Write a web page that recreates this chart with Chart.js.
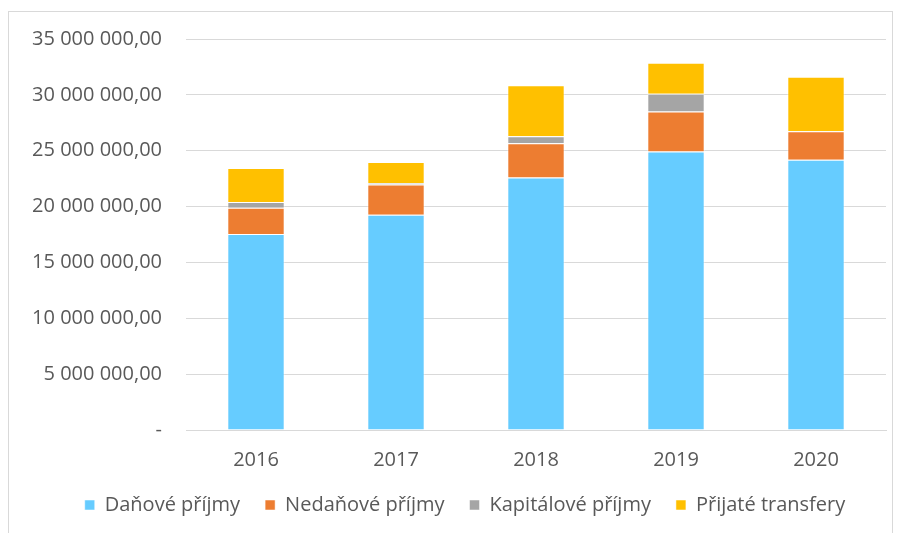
<!DOCTYPE html>
<html>
<head>
<meta charset="utf-8">
<script src="https://cdn.jsdelivr.net/npm/chart.js@4/dist/chart.umd.min.js"></script>
<style>
html,body{margin:0;padding:0;background:#fff;}
#frame{position:absolute;left:8px;top:11px;width:885px;height:530px;border:1px solid #d9d9d9;box-sizing:border-box;}
#wrap{position:absolute;left:0;top:0;width:900px;height:533px;}
</style>
</head>
<body>
<div id="frame"></div>
<div id="wrap"><canvas id="c" width="900" height="533"></canvas></div>
<script>
const categories = ['2016','2017','2018','2019','2020'];
const danove = [17550000, 19260000, 22610000, 24920000, 24200000];
const nedanove = [2340000, 2720000, 3060000, 3600000, 2550000];
const kapitalove = [510000, 130000, 630000, 1590000, 0];
const transfery = [3060000, 1890000, 4560000, 2760000, 4860000];
const yTicks = [0, 5000000, 10000000, 15000000, 20000000, 25000000, 30000000, 35000000];

function fmt(v){
  if (v === 0) return '-';
  const s = Math.round(v).toString().replace(/\B(?=(\d{3})+(?!\d))/g, ' ');
  return s + ',00';
}
const FONT = '"Open Sans", Lato, sans-serif';
const ds = (label, data, color) => ({label, data, backgroundColor: color, borderColor: 'rgba(255,255,255,0.5)', borderWidth: 1, barPercentage: 0.41, categoryPercentage: 1});

const shiftLegend = {
  id: 'shiftLegend',
  afterLayout(chart) {
    const lg = chart.legend;
    if (lg) { lg.left += 22; lg.right += 22; }
  }
};

new Chart(document.getElementById('c'), {
  type: 'bar',
  data: {
    labels: categories,
    datasets: [
      ds('Daňové příjmy', danove, '#66CCFF'),
      ds('Nedaňové příjmy', nedanove, '#ED7D31'),
      ds('Kapitálové příjmy', kapitalove, '#A5A5A5'),
      ds('Přijaté transfery', transfery, '#FFC000')
    ]
  },
  plugins: [shiftLegend],
  options: {
    responsive: false,
    animation: false,
    layout: {padding: {top: 39, right: 14, bottom: 8, left: 0}},
    plugins: {
      legend: {
        position: 'bottom',
        labels: {
          boxWidth: 10, boxHeight: 10, padding: 25,
          color: '#595959', font: {family: FONT, size: 20}
        }
      },
      tooltip: {enabled: false}
    },
    scales: {
      x: {
        stacked: true,
        afterFit: (axis) => { axis.height = 40; },
        grid: {display: false, drawTicks: false},
        border: {color: '#d9d9d9'},
        ticks: {color: '#595959', font: {family: FONT, size: 20}, padding: 18}
      },
      y: {
        stacked: true,
        min: 0, max: 35000000,
        afterBuildTicks: (axis) => { axis.ticks = yTicks.map(v => ({value: v})); },
        afterFit: (axis) => { axis.width = 186; },
        grid: {color: '#d9d9d9', lineWidth: 1, drawTicks: false},
        border: {display: false},
        ticks: {color: '#595959', font: {family: FONT, size: 20}, padding: 24, callback: (v) => fmt(v)}
      }
    }
  }
});
</script>
</body>
</html>
